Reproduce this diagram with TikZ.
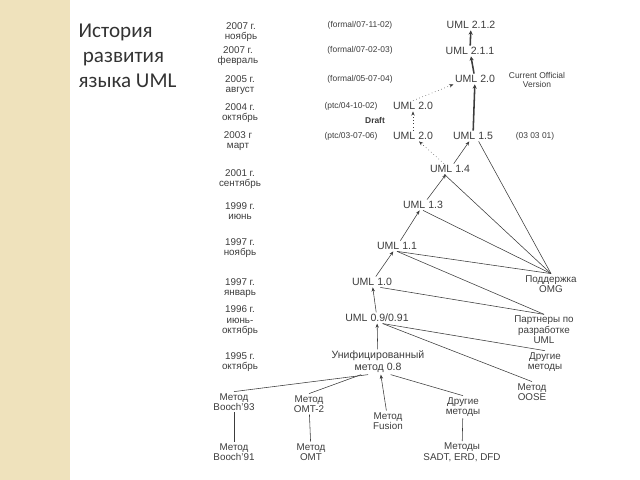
\documentclass[tikz,border=0pt]{standalone}
\usepackage{fontspec}
\setmainfont{Liberation Sans}
\newfontfamily\titlefont{Carlito}
\usetikzlibrary{arrows.meta}
\definecolor{strip}{RGB}{239,226,188}
\definecolor{ink}{RGB}{60,60,60}
\begin{document}
\begin{tikzpicture}[x=0.025cm, y=-0.025cm,
                every node/.style = {align=center, inner sep=1pt, text=ink, font=\fontsize{7}{7.5}\selectfont},
                ver/.style = {font=\fontsize{7.5}{8.5}\selectfont},
                ref/.style = {font=\fontsize{6}{7}\selectfont},
                conn/.style = {draw=ink, line width=0.4pt},
                evolve/.style = {conn, -{Stealth[length=3pt,width=2.4pt]}},
                major/.style = {draw=ink, line width=1.1pt, -{Stealth[length=3pt,width=3pt]}},
                draft/.style = {conn, dotted, -{Stealth[length=3pt,width=2.4pt]}}
            ]
            \useasboundingbox (0,0) rectangle (640,480);
            \fill[strip] (0,0) rectangle (70,480);
            \node[anchor=north west, align=left, text=black!80, font=\titlefont\fontsize{15}{18}\selectfont] (title) at (77,22)
                {История\\\hspace*{3pt}развития\\языка UML};

            \node (d1) at (241,32) {2007 г.\\ноябрь};
            \node (d2) at (238,56) {2007 г.\\февраль};
            \node (d3) at (240,85) {2005 г.\\август};
            \node (d4) at (240,113) {2004 г.\\октябрь};
            \node (d5) at (238,141) {2003 г\\март};
            \node (d6) at (240,179) {2001 г.\\сентябрь};
            \node (d7) at (240,211) {1999 г.\\июнь};
            \node (d8) at (240,248) {1997 г.\\ноябрь};
            \node (d9) at (240,288) {1997 г.\\январь};
            \node (d10) at (240,321) {1996 г.\\июнь-\\октябрь};
            \node (d11) at (240,362) {1995 г.\\октябрь};

            \node[ref] (r1) at (360,25) {(formal/07-11-02)};
            \node[ref] (r2) at (360,50) {(formal/07-02-03)};
            \node[ref] (r3) at (360,79) {(formal/05-07-04)};
            \node[ref] (r4) at (351,106) {(ptc/04-10-02)};
            \node[ref, font=\bfseries\fontsize{6}{7}\selectfont] (dlabel) at (375,120) {Draft};
            \node[ref] (r5) at (351,136) {(ptc/03-07-06)};

            \node[ver] (v212) at (471,25) {UML 2.1.2};
            \node[ver] (v211) at (470,51) {UML 2.1.1};
            \node[ver] (v20) at (475,79) {UML 2.0};
            \node[ref] (cur) at (537,80) {Current Official\\Version};
            \node[ver] (v20d) at (413,106) {UML 2.0};
            \node[ver] (v20p) at (413,136) {UML 2.0};
            \node[ver] (v15) at (473,136) {UML 1.5};
            \node[ref] (rel15) at (535,136) {(03 03 01)};
            \node[ver] (v14) at (450,169) {UML 1.4};
            \node[ver] (v13) at (423,205) {UML 1.3};
            \node[ver] (v11) at (397,246) {UML 1.1};
            \node[ver] (v10) at (372,282) {UML 1.0};
            \node[ver] (v09) at (377,318) {UML 0.9/0.91};
            \node[ver] (uni) at (378,362) {Унифицированный\\метод 0.8};

            \node (omg) at (551,284) {Поддержка\\OMG};
            \node (partn) at (544,330) {Партнеры по\\разработке\\UML};
            \node (oth1) at (545,362) {Другие\\методы};
            \node (oose) at (532,392) {Метод\\OOSE};
            \node (b93) at (234,402) {Метод\\Booch'93};
            \node (omt2) at (309,404) {Метод\\OMT-2};
            \node (fus) at (388,421) {Метод\\Fusion};
            \node (oth2) at (463,407) {Другие\\методы};
            \node (b91) at (234,452) {Метод\\Booch'91};
            \node (omt) at (311,452) {Метод\\OMT};
            \node (sadt) at (462,452) {Методы\\SADT, ERD, DFD};

            \draw[major] (v211) -- (v212);
            \draw[major] (v20) -- (v211);
            \draw[major] (v15) -- (v20);
            \draw[draft] (v20d.north) -- (v20.south west);
            \draw[draft] (v20p) -- (v20d);
            \draw[draft] (v14) -- (v20p);
            \draw[evolve] (v14) -- (v15);
            \draw[evolve] (v13) -- (v14);
            \draw[evolve] (v11) -- (v13);
            \draw[evolve] (v10) -- (v11);
            \draw[evolve] (v09) -- (v10);
            \draw[evolve] (uni) -- (v09);
            \draw[evolve] (fus) -- ([xshift=2pt]uni.south);

            \draw[conn] ([xshift=4pt]v15.south) -- (omg.north);
            \draw[conn] ([xshift=-4pt]v14.south) -- (omg.north);
            \draw[conn] (v13.south) -- (omg.north);
            \draw[conn] (v11.south) -- (omg.north);
            \draw[conn] (v11.south) -- (partn.north);
            \draw[conn] ([xshift=6pt]v10.south) -- (partn.north);
            \draw[conn] ([xshift=4pt]v09.south) -- (oth1.north);
            \draw[conn] ([xshift=4pt]v09.south) -- (oose.north);
            \draw[conn] ([xshift=9pt]uni.south) -- (oth2.north);
            \draw[conn] (b93.north) -- ([xshift=-7pt]uni.south);
            \draw[conn] (omt2.north) -- ([xshift=-12pt]uni.south);
            \draw[conn] (b91) -- (b93);
            \draw[conn] (omt) -- (omt2);
            \draw[conn] (sadt) -- (oth2);
        \end{tikzpicture}
\end{document}
